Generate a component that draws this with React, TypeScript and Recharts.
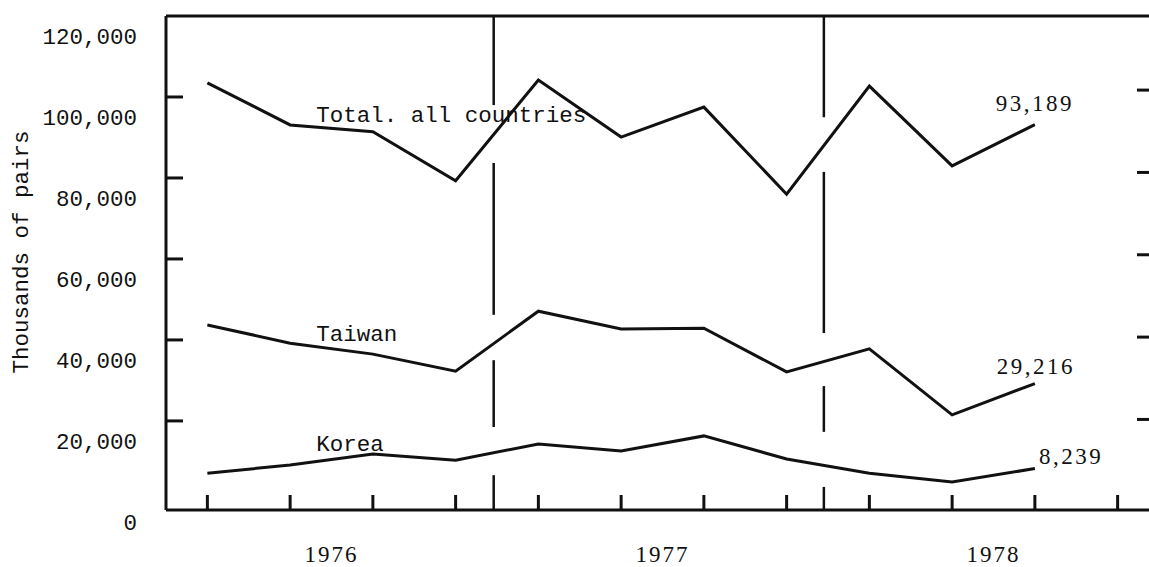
import React from "react";
import { LineChart, Line, XAxis, YAxis, ReferenceLine, Label } from "recharts";

// quarterly imports, thousands of pairs (1978 Q4 has no data yet)
const quarters = [
  "1976 I", "1976 II", "1976 III", "1976 IV",
  "1977 I", "1977 II", "1977 III", "1977 IV",
  "1978 I", "1978 II", "1978 III", "1978 IV",
];
const years = ["1976", "1977", "1978"];
const totalAll = [103500, 93100, 91400, 79300, 104200, 90100, 97500, 76000, 102700, 83000, 93189];
const taiwan = [43700, 39200, 36500, 32300, 47100, 42700, 42900, 32100, 37800, 21500, 29216];
const korea = [7100, 9100, 11800, 10300, 14300, 12600, 16300, 10600, 7100, 4900, 8239];
const seriesNames = ["Total. all countries", "Taiwan", "Korea"];
const yTicks = [0, 20000, 40000, 60000, 80000, 100000, 120000];
const rightTicks = [20000, 40000, 60000, 80000, 100000];

// year dividers, broken where the lines cross them
const dividerAt = [3.46, 7.45];
const dividerSegments = [
  [[120000, 98000], [83700, 46200], [35000, 18500], [6600, -2000]],
  [[120000, 95000], [81500, 41700], [28600, 17300], [3700, -2000]],
];

const rows = quarters.map((q, i) => ({
  q: i,
  name: q,
  total: totalAll[i],
  taiwan: taiwan[i],
  korea: korea[i],
}));

const INK = "#111";
const MONO = "'Liberation Mono', 'DejaVu Sans Mono', monospace";
const SERIF = "'Liberation Serif', 'DejaVu Serif', serif";

// name near the second point, final value near the last point
function seriesLabel(name: string, last: number, nameDy: number, endDx: number, endDy: number, endAnchor: string) {
  return (props: any) => {
    const { x, y, index } = props;
    if (index === 1) {
      return (
        <text x={x + 26} y={y + nameDy} fontFamily={MONO} fontSize={22.5} fill={INK} dominantBaseline="central">
          {name}
        </text>
      );
    }
    if (index === last) {
      return (
        <text x={x + endDx} y={y + endDy} fontFamily={SERIF} fontSize={23} letterSpacing={2.5} fill={INK}
          textAnchor={endAnchor} dominantBaseline="central">
          {Number(props.value).toLocaleString("en-US")}
        </text>
      );
    }
    return null;
  };
}

function LeftTick(props: any) {
  const { x, y, payload } = props;
  const v = payload.value;
  return (
    <g>
      {v !== 0 && v !== 120000 && <line x1={x} x2={x + 17} y1={y} y2={y} stroke={INK} strokeWidth={3} />}
      <text x={x - 29} y={y + 22} textAnchor="end" dominantBaseline="central" fontFamily={MONO} fontSize={22.5} fill={INK}>
        {v.toLocaleString("en-US")}
      </text>
    </g>
  );
}

function YearTick(props: any) {
  const { x, y, index } = props;
  return (
    <text x={x} y={y + 44} textAnchor="middle" dominantBaseline="central" fontFamily={SERIF} fontSize={23} letterSpacing={2} fill={INK}>
      {years[index]}
    </text>
  );
}

export default function App() {
  const last = totalAll.length - 1;
  const domainX: [number, number] = [-0.5, quarters.length - 0.5];
  return (
    <div style={{ position: "absolute", left: 0, top: 0, width: 1149, height: 567, overflow: "hidden", background: "#fff" }}>
      <LineChart width={1162} height={567} data={rows} margin={{ top: 16, right: 3, bottom: 0, left: 0 }}>
        <XAxis
          dataKey="q"
          type="number"
          domain={domainX}
          allowDataOverflow
          ticks={quarters.map((_, i) => i)}
          mirror
          tickSize={15}
          axisLine={{ stroke: INK, strokeWidth: 3 }}
          tickLine={{ stroke: INK, strokeWidth: 3 }}
          tick={() => <g />}
        />
        <XAxis
          xAxisId="year"
          dataKey="q"
          type="number"
          domain={domainX}
          allowDataOverflow
          ticks={years.map((_, i) => i * 4 + 1.5)}
          height={57}
          axisLine={false}
          tickLine={false}
          tickSize={0}
          tickMargin={0}
          tick={<YearTick />}
        />
        <YAxis
          type="number"
          domain={[-2000, 120000]}
          allowDataOverflow
          ticks={yTicks}
          width={166}
          tickSize={0}
          tickMargin={0}
          axisLine={{ stroke: INK, strokeWidth: 3 }}
          tickLine={false}
          tick={<LeftTick />}
        >
          <Label
            content={({ viewBox }: any) => (
              <text
                x={viewBox.x + 22}
                y={viewBox.y + viewBox.height / 2 - 11}
                transform={`rotate(-90 ${viewBox.x + 22} ${viewBox.y + viewBox.height / 2 - 11})`}
                textAnchor="middle"
                dominantBaseline="central"
                fontFamily={MONO}
                fontSize={22.5}
                fill={INK}
              >
                Thousands of pairs
              </text>
            )}
          />
        </YAxis>
        <YAxis
          yAxisId="right"
          orientation="right"
          type="number"
          domain={[-2000, 118000]}
          allowDataOverflow
          ticks={rightTicks}
          mirror
          tickSize={22}
          axisLine={false}
          tickLine={{ stroke: INK, strokeWidth: 3 }}
          tick={() => <g />}
        />
        <ReferenceLine y={120000} stroke={INK} strokeWidth={3} />
        {dividerAt.map((x, d) =>
          dividerSegments[d].map(([a, b], k) => (
            <ReferenceLine
              key={`${d}-${k}`}
              segment={[{ x, y: a }, { x, y: b }]}
              stroke={INK}
              strokeWidth={2.5}
            />
          ))
        )}
        <Line dataKey="total" type="linear" stroke={INK} strokeWidth={3} dot={false} isAnimationActive={false}
          label={seriesLabel(seriesNames[0], last, -9, 0, -21, "middle")} />
        <Line dataKey="taiwan" type="linear" stroke={INK} strokeWidth={3} dot={false} isAnimationActive={false}
          label={seriesLabel(seriesNames[1], last, -8, 1, -17, "middle")} />
        <Line dataKey="korea" type="linear" stroke={INK} strokeWidth={3} dot={false} isAnimationActive={false}
          label={seriesLabel(seriesNames[2], last, -20, 4, -12, "start")} />
      </LineChart>
    </div>
  );
}
